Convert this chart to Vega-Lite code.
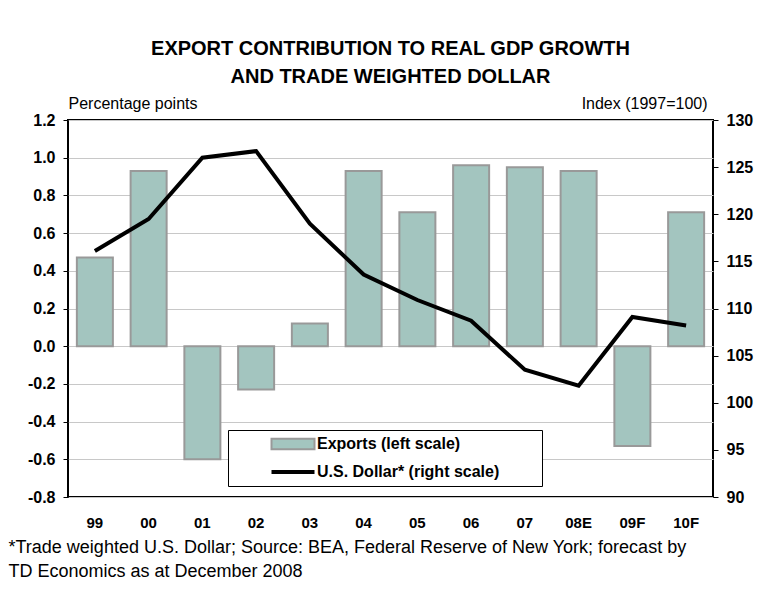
{
  "$schema": "https://vega.github.io/schema/vega-lite/v6.json",
  "width": 645,
  "height": 377,
  "autosize": {"type": "none"},
  "padding": {"left": 68, "top": 120, "right": 59, "bottom": 92},
  "background": "white",
  "title": {
    "text": ["EXPORT CONTRIBUTION TO REAL GDP GROWTH", "AND TRADE WEIGHTED DOLLAR"],
    "font": "Liberation Sans",
    "fontSize": 20,
    "fontWeight": "bold",
    "color": "#000000",
    "anchor": "middle",
    "frame": "group",
    "lineHeight": 28,
    "offset": 8
  },
  "config": {
    "font": "Liberation Sans",
    "view": {"stroke": "#000000", "strokeWidth": 2},
    "axis": {"labelColor": "#000000", "titleColor": "#000000"}
  },
  "data": {
    "values": [
      {"year": "99", "exports": 0.47, "usd": 116.1},
      {"year": "00", "exports": 0.93, "usd": 119.5},
      {"year": "01", "exports": -0.6, "usd": 126.0},
      {"year": "02", "exports": -0.23, "usd": 126.7},
      {"year": "03", "exports": 0.12, "usd": 119.0},
      {"year": "04", "exports": 0.93, "usd": 113.6},
      {"year": "05", "exports": 0.71, "usd": 110.9},
      {"year": "06", "exports": 0.96, "usd": 108.7},
      {"year": "07", "exports": 0.95, "usd": 103.5},
      {"year": "08E", "exports": 0.93, "usd": 101.8},
      {"year": "09F", "exports": -0.53, "usd": 109.1},
      {"year": "10F", "exports": 0.71, "usd": 108.2}
    ]
  },
  "encoding": {
    "x": {
      "field": "year",
      "type": "nominal",
      "sort": null,
      "scale": {"paddingInner": 0.33, "paddingOuter": 0.165},
      "axis": {
        "title": ["*Trade weighted U.S. Dollar; Source: BEA, Federal Reserve of New York; forecast by", "TD Economics as at December 2008"],
        "titleFontWeight": "normal",
        "titleFontSize": 18,
        "titleAlign": "left",
        "titleAnchor": "start",
        "titleX": -60,
        "titleY": 41,
        "titleBaseline": "top",
        "titleLineHeight": 24,
        "titleLimit": 0,
        "labelAngle": 0,
        "labelFontWeight": "bold",
        "labelFontSize": 15,
        "labelPadding": 18,
        "domain": false,
        "ticks": false
      }
    }
  },
  "layer": [
    {
      "mark": {"type": "bar", "stroke": "#999999", "strokeWidth": 2},
      "encoding": {
        "y": {
          "field": "exports",
          "type": "quantitative",
          "scale": {"domain": [-0.8, 1.2], "nice": false},
          "axis": {
            "values": [-0.8, -0.6, -0.4, -0.2, 0, 0.2, 0.4, 0.6, 0.8, 1.0, 1.2],
            "labelExpr": "(datum.value < -0.001 ? '-' : '') + format(abs(datum.value), '.1f')",
            "labelOverlap": false,
            "labelFontWeight": "bold",
            "labelFontSize": 16,
            "labelPadding": 8,
            "tickSize": 5,
            "tickColor": "#000000",
            "domain": false,
            "grid": true,
            "gridColor": "#C8C8C8",
            "gridWidth": 1,
            "title": "Percentage points",
            "titleAngle": 0,
            "titleAlign": "left",
            "titleBaseline": "bottom",
            "titleFontWeight": "normal",
            "titleFontSize": 16,
            "titleX": 0,
            "titleY": -9
          }
        },
        "color": {
          "datum": "Exports (left scale)",
          "type": "nominal",
          "scale": {
            "domain": ["Exports (left scale)", "U.S. Dollar* (right scale)"],
            "range": ["#A3C5BF", "#000000"]
          },
          "legend": {
            "title": " ",
            "titleOrient": "left",
            "titlePadding": 33,
            "orient": "none",
            "legendX": 160,
            "legendY": 310,
            "padding": 6,
            "fillColor": "#FFFFFF",
            "strokeColor": "#000000",
            "labelFontWeight": "bold",
            "labelFontSize": 16,
            "labelColor": "#000000",
            "labelLimit": 0,
            "symbolType": "M-1,-0.24H1V0.24H-1Z",
            "symbolSize": 1849,
            "symbolStrokeColor": "#999999",
            "symbolStrokeWidth": 2,
            "symbolOffset": 18,
            "labelOffset": 16,
            "rowPadding": 10,
            "labelExpr": "datum.label + '\u2800\u2800\u2800'",
            "encode": {
              "symbols": {
                "update": {
                  "shape": {"signal": "datum.value === 'Exports (left scale)' ? 'M-1,-0.24H1V0.24H-1Z' : 'M-1,0H1'"},
                  "fill": {"signal": "datum.value === 'Exports (left scale)' ? '#A3C5BF' : 'transparent'"},
                  "stroke": {"signal": "datum.value === 'Exports (left scale)' ? '#999999' : '#000000'"},
                  "strokeWidth": {"signal": "datum.value === 'Exports (left scale)' ? 2 : 4"},
                  "opacity": {"value": 1}
                }
              }
            }
          }
        }
      }
    },
    {
      "mark": {"type": "rule", "color": "#000000", "strokeWidth": 2},
      "encoding": {
        "y": {"datum": 0, "type": "quantitative", "scale": {"domain": [-0.8, 1.2], "nice": false}, "axis": null}
      }
    },
    {
      "mark": {"type": "line", "strokeWidth": 4, "strokeJoin": "miter", "color": "#000000"},
      "encoding": {
        "y": {
          "field": "usd",
          "type": "quantitative",
          "scale": {"domain": [90, 130], "nice": false},
          "axis": {
            "orient": "right",
            "values": [90, 95, 100, 105, 110, 115, 120, 125, 130],
            "labelOverlap": false,
            "labelFontWeight": "bold",
            "labelFontSize": 16,
            "labelPadding": 8,
            "tickSize": 5,
            "tickColor": "#000000",
            "domain": false,
            "grid": false,
            "title": "Index (1997=100)",
            "titleAngle": 0,
            "titleAlign": "right",
            "titleBaseline": "bottom",
            "titleFontWeight": "normal",
            "titleFontSize": 16,
            "titleX": -6,
            "titleY": -9
          }
        }
      }
    }
  ],
  "resolve": {"scale": {"y": "independent"}}
}
